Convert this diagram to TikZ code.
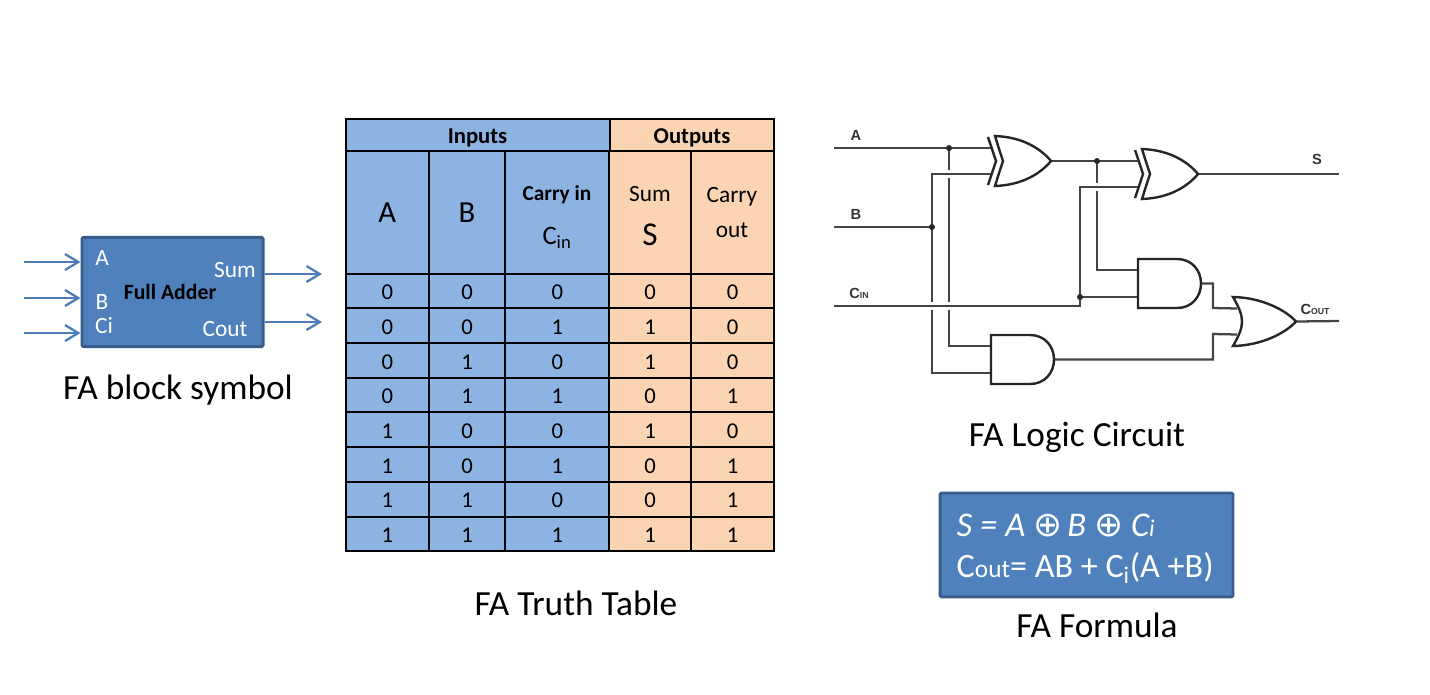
\documentclass[tikz,border=0pt]{standalone}
\usepackage{fontspec}
\setmainfont{Carlito}
\newfontfamily\wirefont{Liberation Sans}
\newfontfamily\symfont{DejaVu Sans}
\usetikzlibrary{positioning, arrows.meta, backgrounds}
\definecolor{blockblue}{HTML}{4F81BD}
\definecolor{blockedge}{HTML}{385D8A}
\definecolor{flowblue}{HTML}{4A7EBB}
\definecolor{inblue}{HTML}{8DB3E2}
\definecolor{outorange}{HTML}{FBD4B4}
\definecolor{wiregray}{HTML}{444444}
\tikzset{
    caption/.style={font=\fontsize{26.5}{30}\selectfont},
    blocktext/.style={text=white, font=\fontsize{17.5}{20}\selectfont},
    cell/.style={draw=black, line width=1.5pt, inner sep=0pt, align=center, minimum height=26pt,
                 font=\fontsize{17}{20}\selectfont},
    colA/.style={cell, fill=inblue, minimum width=62.6pt},
    colB/.style={cell, fill=inblue, minimum width=57pt},
    colC/.style={cell, fill=inblue, minimum width=78.4pt},
    colS/.style={cell, fill=outorange, minimum width=61.1pt},
    colO/.style={cell, fill=outorange, minimum width=62.6pt},
    tallcell/.style={minimum height=91.9pt},
    digit/.style={text height=13pt, text depth=0pt},
    headcell/.style={cell, digit, minimum height=24pt, font=\fontsize{17}{20}\selectfont\bfseries},
    headtext/.style={font=\fontsize{17.5}{20}\selectfont},
    flow/.style={-{Straight Barb[length=10pt, width=12pt, line width=1.7pt]}, line width=1.7pt, draw=flowblue},
    wire/.style={draw=wiregray, line width=1.7pt},
    hop/.style={preaction={draw=white, line width=6pt}},
    gateline/.style={draw=black!85, line width=1.8pt, fill=white},
    dot/.style={circle, fill=black!85, inner sep=0pt, minimum size=4.5pt},
    pinlabel/.style={font=\wirefont\bfseries\fontsize{11}{13}\selectfont, text=black!80},
    xorgate/.pic={
        \draw[gateline] (0,-25) .. controls (28,-24) and (46,-12) .. (56,0)
            .. controls (46,12) and (28,24) .. (0,25)
            .. controls (4,12) and (6,6) .. (8,0) .. controls (6,-6) and (4,-12) .. (0,-25) -- cycle;
        \draw[gateline, fill=none] (-7,-24) .. controls (-3,-12) and (-1,-6) .. (1,0)
            .. controls (-1,6) and (-3,12) .. (-7,24);
        \coordinate (-in1) at (-3,-13);
        \coordinate (-in2) at (-3,13);
        \coordinate (-out) at (56,0);
    },
    andgate/.pic={
        \draw[gateline] (0,-24.5) -- (39,-24.5) .. controls (54,-24.5) and (63,-13) .. (63,0)
            .. controls (63,13) and (54,24.5) .. (39,24.5) -- (0,24.5) -- cycle;
        \coordinate (-in1) at (0,-13.5);
        \coordinate (-in2) at (0,13.5);
        \coordinate (-out) at (63,0);
    },
    orgate/.pic={
        \draw[gateline] (0,-24.5) .. controls (28,-24) and (52,-12) .. (63,0)
            .. controls (52,12) and (28,24) .. (0,24.5)
            .. controls (6,14) and (9,7) .. (9,0) .. controls (9,-7) and (6,-14) .. (0,-24.5) -- cycle;
        \coordinate (-in1) at (4,-13);
        \coordinate (-in2) at (4,13);
        \coordinate (-out) at (63,0);
    }
}

\begin{document}
\begin{tikzpicture}[x=0.75pt, y=-0.75pt]
\useasboundingbox (0,0) rectangle (1430,694);

% --- Block symbol ---
\node[draw=blockedge, fill=blockblue, line width=2.2pt, rounded corners=1pt, inner sep=0pt,
      minimum width=135.8pt, minimum height=82pt] (block) at (172.5,292) {};
\node[blocktext] (la) at (102,258) {A};
\node[blocktext] (lb) at (102,302) {B};
\node[blocktext] (lc) at (104,326) {Ci};
\node[blocktext] (lsum) at (235,270) {Sum};
\node[blocktext] (lcout) at (225,329) {Cout};
\node[font=\fontsize{16.3}{18}\selectfont\bfseries] (lfull) at (170,292) {Full Adder};
\coordinate (fa1) at (24,262);
\coordinate (fa2) at (24,298);
\coordinate (fa3) at (24,333);
\coordinate (fo1) at (322,274);
\coordinate (fo2) at (322,322);
\draw[flow] (fa1) -- (fa1 -| block.west);
\draw[flow] (fa2) -- (fa2 -| block.west);
\draw[flow] (fa3) -- (fa3 -| block.west);
\draw[flow] (fo1 -| block.east) -- (fo1);
\draw[flow] (fo2 -| block.east) -- (fo2);
\node[caption] (capblock) at (178,390) {FA block symbol};

% --- Truth table ---
\node[headcell, fill=inblue, minimum width=198pt] (hin) at (477.5,135) {Inputs};
\node[headcell, fill=outorange, minimum width=123.7pt] (hout) at (692,135) {Outputs};
\node[colA, tallcell, font=\fontsize{23}{26}\selectfont] (ha) at (387.3,212.5) {A};
\node[colB, tallcell, font=\fontsize{23}{26}\selectfont] (hb) at (467,212.5) {B};
\node[colC, tallcell] (hc) at (557.3,212.5) {};
\node[colS, tallcell] (hs) at (650.2,212.5) {};
\node[colO, tallcell] (ho) at (732.7,212.5) {};
\node[headtext, font=\fontsize{16}{20}\selectfont\bfseries] (hc1) at (557,195) {Carry in};
\node[headtext, font=\fontsize{20}{22}\selectfont] (hc2) at (557,238) {C\textsubscript{in}};
\node[headtext] (hs1) at (650,194) {Sum};
\node[headtext, font=\fontsize{25}{28}\selectfont] (hs2) at (650,235) {S};
\node[headtext] (ho1) at (732,197) {Carry};
\node[headtext] (ho2) at (732,230) {out};
\foreach \a/\b/\c/\s/\o [count=\r from 0] in {0/0/0/0/0, 0/0/1/1/0, 0/1/0/1/0, 0/1/1/0/1,
                                              1/0/0/1/0, 1/0/1/0/1, 1/1/0/0/1, 1/1/1/1/1} {
    \node[colA, digit] (a\r) at (387.3,291+34.7*\r) {\a};
    \node[colB, digit] (b\r) at (467,291+34.7*\r) {\b};
    \node[colC, digit] (c\r) at (557.3,291+34.7*\r) {\c};
    \node[colS, digit] (s\r) at (650.2,291+34.7*\r) {\s};
    \node[colO, digit] (o\r) at (732.7,291+34.7*\r) {\o};
}
\node[caption] (captable) at (576,603) {FA Truth Table};

% --- Logic circuit: gates and pins ---
\path (995,161) pic (xa) {xorgate};
\path (1142,174) pic (xb) {xorgate};
\path (1138,283.5) pic (ab) {andgate};
\path (991,359.5) pic (aa) {andgate};
\path (1233,321.5) pic (og) {orgate};
\coordinate (inA) at (834,148);
\coordinate (inB) at (834,227);
\coordinate (inC) at (834,306);
\coordinate (cup) at (1080,306);
\coordinate (outS) at (1339,174);
\coordinate (outC) at (1339,321);
\coordinate (kA) at (1213,308);
\coordinate (kB) at (1213,334);
\coordinate (tA) at (949,148);
\coordinate (tB) at (932,227);
\coordinate (tC) at (1080,297);
\coordinate (tS) at (1097,161);

% Wires go behind the gates; verticals first, horizontals then cut a gap in them
\begin{pgfonlayer}{background}
\draw[wire] (tA) |- (aa-in1);
\draw[wire] (tB) |- (aa-in2);
\draw[wire] (tS) |- (ab-in1);
\draw[wire, hop] (tB) |- (xa-in2);
\draw[wire, hop, line width=2pt] (inC) -- (cup) |- (xb-in2);
\draw[wire] (inA) -- (xa-in1);
\draw[wire] (inB) -- (tB);
\draw[wire] (tC) -- (ab-in2);
\draw[wire] (xa-out) -- (xb-in1);
\draw[wire] (xb-out) -- (outS);
\draw[wire] (ab-out) -| (kA) -- (og-in1);
\draw[wire] (aa-out) -| (kB) -- (og-in2);
\draw[wire] (og-out) -- (outC);
\end{pgfonlayer}
\node[dot] (dA) at (tA) {};
\node[dot] (dB) at (tB) {};
\node[dot] (dC) at (tC) {};
\node[dot] (dS) at (tS) {};

\node[pinlabel] (pa) at (856,135) {A};
\node[pinlabel] (pb) at (856,214) {B};
\node[pinlabel] (pc) at (859,293) {C{\fontsize{6.5}{8}\selectfont IN}};
\node[pinlabel] (ps) at (1317,159) {S};
\node[pinlabel] (pco) at (1315,309) {C{\fontsize{6.5}{8}\selectfont OUT}};
\node[caption] (capcircuit) at (1077,437) {FA Logic Circuit};

% --- Formula ---
\node[draw=blockedge, fill=blockblue, line width=2.2pt, rounded corners=1pt, inner sep=0pt,
      minimum width=219.7pt, minimum height=78pt] (formula) at (1086.5,545) {};
\node[anchor=west, text=white, font=\fontsize{26}{30}\selectfont\itshape] (fs) at (952,525)
    {S = A {\symfont\fontsize{26}{30}\selectfont\upshape ⊕} \kern-2pt B {\symfont\fontsize{26}{30}\selectfont\upshape ⊕} C{\fontsize{18}{20}\selectfont i}};
\node[anchor=west, text=white, font=\fontsize{25.6}{30}\selectfont] (fc) at (952,568)
    {C{\fontsize{19}{20}\selectfont out}= AB + C\textsubscript{i}(A +B)};
\node[caption] (capformula) at (1097,625) {FA Formula};
\end{tikzpicture}
\end{document}
